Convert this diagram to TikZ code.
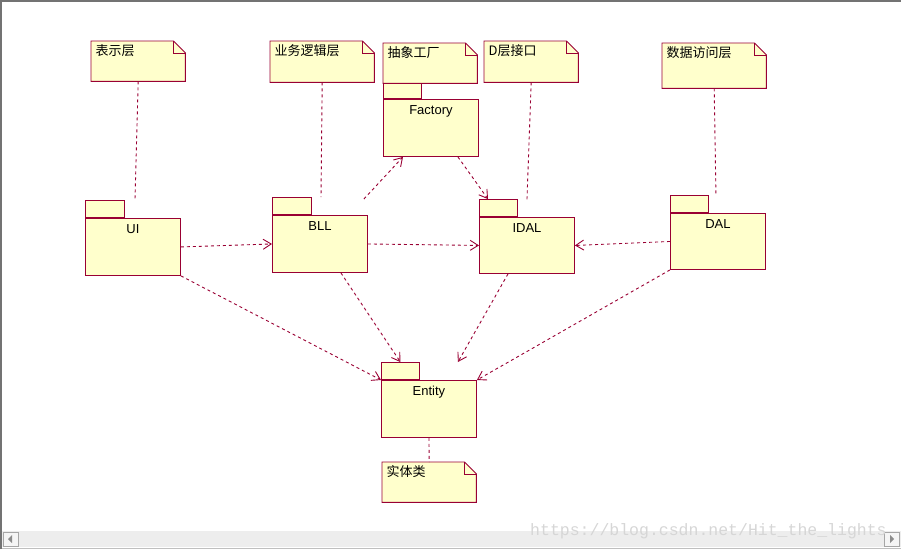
\documentclass[tikz,border=0pt]{standalone}
\usepackage{fontspec}
\setmainfont{Liberation Sans}
\newfontfamily\cjkfont{Noto Sans CJK SC}
\newfontfamily\urlfont{Liberation Mono}
\usepackage{tikz}
\usetikzlibrary{arrows.meta,calc}

\definecolor{umlred}{RGB}{153,0,51}
\definecolor{notefill}{RGB}{255,255,204}

\tikzset{
    umlline/.style={draw=umlred, line width=0.9pt},
    dep/.style={umlline, dash pattern=on 3pt off 3pt, -{Straight Barb[length=8pt,width=10pt]}},
    link/.style={umlline, dash pattern=on 3pt off 3pt},
    pkg/.style={umlline, fill=notefill, minimum width=95, minimum height=57, inner sep=0,
        anchor=north west, label={[pkglabel]north:#1}},
    pkglabel/.style={anchor=north, inner sep=0, yshift=-6pt, font=\fontsize{13}{15}\selectfont},
    tab/.style={umlline, fill=notefill, minimum width=39, minimum height=17, inner sep=0, anchor=south west},
    notefold/.style={append after command={\pgfextra{%
        \begin{pgfinterruptpath}
        \filldraw[umlline, fill=notefill] (\tikzlastnode.north west) -- ([xshift=-12pt]\tikzlastnode.north east)
            -- ([yshift=-12pt]\tikzlastnode.north east) -- (\tikzlastnode.south east)
            -- (\tikzlastnode.south west) -- cycle;
        \draw[umlline] ([xshift=-12pt]\tikzlastnode.north east) |- ([yshift=-12pt]\tikzlastnode.north east);
        \end{pgfinterruptpath}}}},
    note/.style={minimum width=94, minimum height=40, inner sep=0, anchor=north west,
        notefold, label={[notetext]north west:#1}},
    notetext/.style={anchor=north west, inner sep=0, xshift=4.5pt, yshift=-3pt,
        font=\cjkfont\fontsize{13}{15}\selectfont},
}

\begin{document}
\begin{tikzpicture}[x=1pt, y=-1pt]
    \useasboundingbox (0,0) rectangle (901,549);

    %%%% Window ========================================
    \fill[black!7] (2,531) rectangle (901,547);
    \draw[black!35, fill=black!4] (3,532) rectangle (18,546);
    \fill[black!45] (8,539) -- (12,535) -- (12,543) -- cycle;
    \draw[black!35, fill=black!4] (884,532) rectangle (899,546);
    \fill[black!45] (894,539) -- (890,535) -- (890,543) -- cycle;
    \draw[black!25] (0,548) -- (901,548);
    \draw[black!55, line width=1.5pt] (0.75,549) -- (0.75,0.75) -- (901,0.75);

    %%%% Packages ======================================
    % Bodies
    \node[pkg=UI] (ui) at (85,218) {};
    \node[pkg=BLL] (bll) at (272,215) {};
    \node[pkg=Factory] (factory) at (383,99) {};
    \node[pkg=IDAL, minimum height=56] (idal) at (479,217) {};
    \node[pkg=DAL, minimum height=56] (dal) at (670,213) {};
    \node[pkg=Entity] (entity) at (381,380) {};

    % Tabs
    \node[tab] (uitab) at (ui.north west) {};
    \node[tab] (blltab) at (bll.north west) {};
    \node[tab, minimum width=38] (factorytab) at (factory.north west) {};
    \node[tab, minimum width=38] (idaltab) at (idal.north west) {};
    \node[tab, minimum width=38] (daltab) at (dal.north west) {};
    \node[tab, minimum width=38] (entitytab) at (entity.north west) {};

    %%%% Notes =========================================
    \node[note=表示层] (uinote) at (91,41) {};
    \node[note=业务逻辑层, minimum width=104, minimum height=41] (bllnote) at (270,41) {};
    \node[note=抽象工厂] (factorynote) at (383,43) {};
    \node[note=D层接口, minimum height=41] (idalnote) at (484,41) {};
    \node[note=数据访问层, minimum width=104, minimum height=45] (dalnote) at (662,43) {};
    \node[note=实体类] (entitynote) at (382,462) {};

    % Note links
    \draw[link] (uinote.south) -- ([xshift=50pt,yshift=19pt]ui.north west);
    \draw[link] (bllnote.south) -- ([xshift=49pt,yshift=18pt]bll.north west);
    \draw[link] (idalnote.south) -- ([yshift=17pt]idal.north);
    \draw[link] (dalnote.south) -- ([xshift=-2pt,yshift=18pt]dal.north);
    \draw[link] (entity.south) -- (entitynote.north);

    %%%% Dependencies ==================================
    \draw[dep] (ui.east) -- (bll.west);
    \draw[dep] (bll.east) -- (idal.west);
    \draw[dep] (dal.west) -- (idal.east);
    \draw[dep] ([xshift=-4pt,yshift=16pt]bll.north east) -- ([xshift=20pt]factory.south west);
    \draw[dep] ([xshift=-21pt]factory.south east) -- ([xshift=9pt]idaltab.north west);
    \draw[dep] (ui.south east) -- (entity.north west);
    \draw[dep] ([xshift=-27pt]bll.south east) -- (entitytab.north);
    \draw[dep] ([xshift=29pt]idal.south west) -- ([xshift=-19pt,yshift=18pt]entity.north east);
    \draw[dep] (dal.south west) -- (entity.north east);

    % Watermark
    \node[anchor=base west, inner sep=0, text=black!16, font=\urlfont\fontsize{16.5}{18}\selectfont]
        (mark) at (530,535) {https://blog.csdn.net/Hit\_the\_lights};
\end{tikzpicture}
\end{document}
